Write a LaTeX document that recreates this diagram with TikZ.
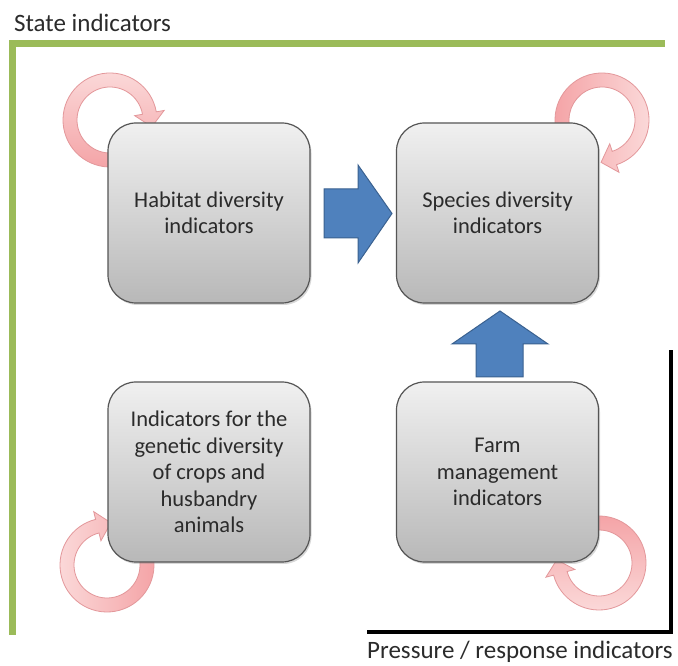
\documentclass[tikz,border=0pt]{standalone}
\usepackage{fontspec}
\setmainfont{Carlito}
\usetikzlibrary{calc,shadows}
\definecolor{greenline}{HTML}{9BBB59}
\definecolor{boxtop}{HTML}{F0F0F0}
\definecolor{boxbot}{HTML}{B8B8B8}
\definecolor{boxedge}{HTML}{555555}
\definecolor{bluefill}{HTML}{4F81BD}
\definecolor{blueedge}{HTML}{3A6190}
\definecolor{pinkdeep}{HTML}{F4A2A5}
\definecolor{pinklight}{HTML}{FBDADA}
\definecolor{pinkedge}{HTML}{E3979A}
\definecolor{txt}{HTML}{2B2B2B}
\newcommand\cyclearrow[4]{%
  \path[ringarrow,#4] ($(#1)+(#2:47pt)$) arc[start angle=#2, end angle=#3, radius=47pt]
    -- ($(#1)+(#3:55pt)$) -- ($(#1)+(#3:40pt)+(#3-90:14pt)$) -- ($(#1)+(#3:25pt)$)
    -- ($(#1)+(#3:33pt)$) arc[start angle=#3, end angle=#2, radius=33pt] -- cycle;}
\begin{document}
\begin{tikzpicture}[x=1pt,y=1pt,
  box/.style={draw=boxedge, line width=1.2pt, rounded corners=28pt, top color=boxtop,
    bottom color=boxbot, minimum width=202pt, minimum height=180pt, align=center,
    text=txt, font=\fontsize{22.5}{26.5}\selectfont,
    drop shadow={shadow xshift=1.5pt, shadow yshift=-2pt, opacity=0.3}},
  ringarrow/.style={draw=pinkedge, line width=0.8pt},
  blockarrow/.style={fill=bluefill, draw=blueedge, line width=1pt},
  label/.style={anchor=base west, inner sep=0pt, text=txt, font=\fontsize{25}{30}\selectfont}]
\fill[white] (0,0) rectangle (678,666);
\path[use as bounding box] (0,0) rectangle (678,666);
% frames
\draw[greenline, line width=7pt] (12,31) -- (12,622.5) -- (665,622.5);
\draw[black, line width=4pt] (367,34) -- (671,34) -- (671,316);
\node[label] (state) at (14,634) {State indicators};
\node[label] (pressure) at (367,7) {Pressure / response indicators};
% loop centres
\coordinate (tlc) at (110,546);
\coordinate (trc) at (602,546);
\coordinate (blc) at (107,101);
\coordinate (brc) at (599,103);
\cyclearrow{tlc}{280}{10}{top color=pinklight, bottom color=pinkdeep}
\cyclearrow{trc}{190}{-72}{left color=pinkdeep, right color=pinklight}
\cyclearrow{blc}{10}{-256}{left color=pinklight, right color=pinkdeep}
\cyclearrow{brc}{100}{-165}{top color=pinkdeep, bottom color=pinklight}
% boxes
\node[box] (habitat) at (209,453) {Habitat diversity\\indicators};
\node[box] (species) at (497.5,453) {Species diversity\\indicators};
\node[box] (genetic) at (209,194) {Indicators for the\\genetic diversity\\of crops and\\husbandry\\animals};
\node[box] (farm) at (497.5,194) {Farm\\management\\indicators};
% block arrows
\path[blockarrow] (324,477) -- (358,477) -- (358,501) -- (392,452.5) -- (358,403) -- (358,428) -- (324,428) -- cycle;
\path[blockarrow] (476,289) -- (476,322) -- (452,322) -- (500,355) -- (548,322) -- (523,322) -- (523,289) -- cycle;
\end{tikzpicture}
\end{document}
